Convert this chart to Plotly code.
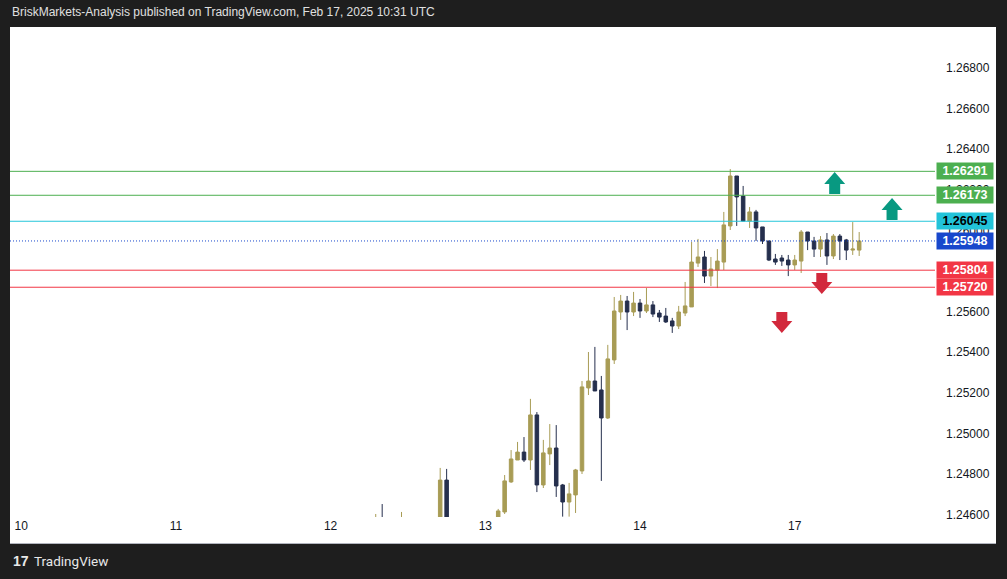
import plotly.graph_objects as go

# ---------------- data (hourly candles, index = hours since Feb 10 00:00, weekend skipped) ----------------
idx = [55, 56, 59, 65, 66] + list(range(74, 131))
opens = [1.24540, 1.24580, 1.24540, 1.24550, 1.24770,
         1.24570, 1.24613, 1.24761, 1.24869, 1.24908, 1.24869, 1.25091, 1.24746, 1.24899, 1.24928,
         1.24746, 1.24662, 1.24697, 1.24815, 1.25224, 1.25258, 1.25214, 1.25076, 1.25362, 1.25598,
         1.25652, 1.25598, 1.25642, 1.25603, 1.25633, 1.25593, 1.25578, 1.25554, 1.25529, 1.25593,
         1.25623, 1.25839, 1.25869, 1.25775, 1.25805, 1.25844, 1.26022, 1.26268, 1.26169, 1.26046,
         1.26091, 1.26017, 1.25948, 1.25859, 1.25864, 1.25854, 1.25830, 1.25849, 1.25992, 1.25948,
         1.25908, 1.25953, 1.25874, 1.25972, 1.25953, 1.25903, 1.25903]
highs = [1.24603, 1.24652, 1.24613, 1.24830, 1.24825,
         1.24628, 1.24795, 1.24918, 1.24958, 1.24982, 1.25170, 1.25105, 1.24968, 1.25046, 1.25041,
         1.24751, 1.24756, 1.24825, 1.25258, 1.25401, 1.25426, 1.25283, 1.25436, 1.25672, 1.25682,
         1.25677, 1.25697, 1.25662, 1.25716, 1.25652, 1.25608, 1.25618, 1.25569, 1.25628, 1.25746,
         1.25943, 1.25958, 1.25899, 1.25869, 1.25908, 1.26091, 1.26302, 1.26268, 1.26219, 1.26115,
         1.26101, 1.26017, 1.25948, 1.25884, 1.25879, 1.25879, 1.25879, 1.26002, 1.25992, 1.25968,
         1.25972, 1.25987, 1.25982, 1.25982, 1.25958, 1.26041, 1.25992]
lows = [1.24520, 1.24490, 1.24510, 1.24520, 1.24500,
        1.24550, 1.24603, 1.24756, 1.24869, 1.24859, 1.24820, 1.24711, 1.24731, 1.24844, 1.24687,
        1.24590, 1.24590, 1.24608, 1.24800, 1.25189, 1.25209, 1.24766, 1.25071, 1.25342, 1.25559,
        1.25509, 1.25578, 1.25569, 1.25593, 1.25573, 1.25549, 1.25544, 1.25495, 1.25514, 1.25578,
        1.25623, 1.25820, 1.25741, 1.25726, 1.25716, 1.25805, 1.26002, 1.26022, 1.26046, 1.26012,
        1.25948, 1.25933, 1.25849, 1.25830, 1.25825, 1.25775, 1.25805, 1.25790, 1.25903, 1.25869,
        1.25869, 1.25830, 1.25859, 1.25854, 1.25854, 1.25879, 1.25874]
closes = [1.24585, 1.24520, 1.24580, 1.24770, 1.24520,
          1.24618, 1.24766, 1.24874, 1.24908, 1.24869, 1.25091, 1.24746, 1.24904, 1.24928, 1.24741,
          1.24662, 1.24702, 1.24820, 1.25229, 1.25258, 1.25209, 1.25076, 1.25367, 1.25603, 1.25652,
          1.25598, 1.25642, 1.25603, 1.25633, 1.25588, 1.25573, 1.25549, 1.25529, 1.25598, 1.25628,
          1.25844, 1.25869, 1.25775, 1.25810, 1.25849, 1.26027, 1.26268, 1.26165, 1.26046, 1.26091,
          1.26012, 1.25948, 1.25854, 1.25844, 1.25849, 1.25830, 1.25854, 1.25992, 1.25948, 1.25908,
          1.25953, 1.25874, 1.25972, 1.25948, 1.25903, 1.25908, 1.25948]

day_ticks = [0, 24, 48, 72, 96, 120]
day_labels = ["10", "11", "12", "13", "14", "17"]
price_ticks = [1.24600, 1.24800, 1.25000, 1.25200, 1.25400, 1.25600, 1.25800,
               1.26000, 1.26200, 1.26400, 1.26600, 1.26800]

levels = [1.26291, 1.26173, 1.26045, 1.25948, 1.25804, 1.25720]
level_kind = ["tp", "tp", "pivot", "last", "sl", "sl"]

up_arrow_x = [126.2, 135.1]
up_arrow_y = [1.26179, 1.26051]
down_arrow_x = [124.2, 118.0]
down_arrow_y = [1.25790, 1.25598]

# ---------------- style ----------------
W, H = 1007, 579
L, R, T, B = 10, 935, 27, 517
GOLD = "#a89c55"
NAVY = "#252f4d"
DARK = "#1e1e1e"
style = {
    "tp": dict(line="#4caf50", box="#4caf50", txt="#ffffff", dash="solid"),
    "pivot": dict(line="#26c6da", box="#22c3d9", txt="#000000", dash="solid"),
    "last": dict(line="#1848cc", box="#1848cc", txt="#ffffff", dash="1px,2px"),
    "sl": dict(line="#f23645", box="#f23645", txt="#ffffff", dash="solid"),
}

def px_x(p):
    return (p - L) / (R - L)

def px_y(p):
    return (B - p) / (B - T)

fig = go.Figure()
fig.add_trace(go.Candlestick(
    x=idx, open=opens, high=highs, low=lows, close=closes,
    increasing=dict(line=dict(color=GOLD, width=1), fillcolor=GOLD),
    decreasing=dict(line=dict(color=NAVY, width=1), fillcolor=NAVY),
    whiskerwidth=0, showlegend=False, hoverinfo="skip",
))

shapes = []
# white chart panel (including axis areas)
shapes.append(dict(type="rect", xref="paper", yref="paper", x0=0, x1=px_x(996),
                   y0=px_y(543), y1=1, fillcolor="#ffffff", line=dict(width=0), layer="below"))
shapes.append(dict(type="line", xref="paper", yref="paper", x0=0, x1=px_x(996),
                   y0=px_y(543.5), y1=px_y(543.5), line=dict(color="#b2b5be", width=1)))

annotations = []
for lv, kind in zip(levels, level_kind):
    s = style[kind]
    shapes.append(dict(type="line", xref="paper", yref="y", x0=0, x1=1, y0=lv, y1=lv,
                       line=dict(color=s["line"], width=1, dash=s["dash"]), layer="above"))
    annotations.append(dict(xref="paper", yref="y", x=px_x(936), y=lv, xanchor="left", yanchor="middle",
                            text="<b>%.5f</b>" % lv, showarrow=False, bgcolor=s["box"],
                            font=dict(family="Liberation Sans, Arial", size=12.5, color=s["txt"]),
                            width=52, height=12, borderpad=2, align="center"))

up_path = "M -5.5,0 L 5.5,0 L 5.5,10 L 10.5,10 L 0,22 L -10.5,10 L -5.5,10 Z"
down_path = "M -5.5,0 L 5.5,0 L 5.5,-9 L 10.5,-9 L 0,-21 L -10.5,-9 L -5.5,-9 Z"
for ax_, ay_ in zip(up_arrow_x, up_arrow_y):
    shapes.append(dict(type="path", xref="x", yref="y", xsizemode="pixel", ysizemode="pixel",
                       xanchor=ax_, yanchor=ay_, path=up_path, fillcolor="#089981",
                       line=dict(width=0), layer="above"))
for ax_, ay_ in zip(down_arrow_x, down_arrow_y):
    shapes.append(dict(type="path", xref="x", yref="y", xsizemode="pixel", ysizemode="pixel",
                       xanchor=ax_, yanchor=ay_, path=down_path, fillcolor="#d2293c",
                       line=dict(width=0), layer="above"))

annotations.append(dict(xref="paper", yref="paper", x=0, y=px_y(12), xanchor="left", yanchor="middle",
                        text="BriskMarkets-Analysis published on TradingView.com, Feb 17, 2025 10:31 UTC",
                        showarrow=False, font=dict(family="Liberation Sans, Arial", size=12, color="#e0e0e0")))
annotations.append(dict(xref="paper", yref="paper", x=px_x(11), y=px_y(561), xanchor="left", yanchor="middle",
                        text="<b>17</b>", showarrow=False,
                        font=dict(family="Liberation Sans, Arial", size=14, color="#e8e8e8")))
annotations.append(dict(xref="paper", yref="paper", x=px_x(32), y=px_y(561), xanchor="left", yanchor="middle",
                        text="TradingView", showarrow=False,
                        font=dict(family="Liberation Sans Narrow, Roboto, Arial", size=13.5, color="#e8e8e8")))

x_lo = (L - 21.2) / 6.446
x_hi = (R - 21.2) / 6.446
y_top = 1.268 + (68 - T) / 20300
y_bot = 1.268 - (B - 68) / 20300

fig.update_layout(
    width=W, height=H,
    margin=dict(l=L, r=W - R, t=T, b=H - B, pad=0),
    paper_bgcolor=DARK, plot_bgcolor="#ffffff",
    boxgap=0.22,
    shapes=shapes, annotations=annotations,
    xaxis=dict(range=[x_lo, x_hi], rangeslider=dict(visible=False), showgrid=False, zeroline=False,
               tickmode="array", tickvals=day_ticks, ticktext=day_labels, ticks="", showline=False,
               tickfont=dict(family="Liberation Sans, Arial", size=12, color="#131722"), fixedrange=True),
    yaxis=dict(range=[y_bot, y_top], side="right", showgrid=False, zeroline=False, showline=False,
               tickmode="array", tickvals=price_ticks, ticktext=["%.5f" % v for v in price_ticks],
               ticks="", ticklabelstandoff=10,
               tickfont=dict(family="Liberation Sans, Arial", size=12, color="#131722"), fixedrange=True),
)

fig.write_html("out.html")
